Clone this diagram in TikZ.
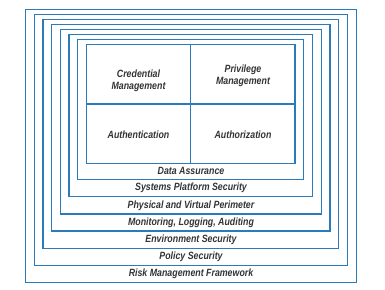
\documentclass[tikz,border=0pt]{standalone}
\usepackage{fontspec}
\usepackage{xcolor}
\usepackage{tikz}
\newfontfamily\lblfont[FakeStretch=0.84]{Liberation Sans}
\definecolor{ringblue}{HTML}{2B7BBA}
\definecolor{lblgray}{HTML}{333333}

\begin{document}
\begin{tikzpicture}[
    x=1pt, y=-1pt,
    ring/.style={draw=ringblue, line width=1.3pt},
    lbl/.style={font=\lblfont\bfseries\itshape\fontsize{10.5}{12}\selectfont,
                text=lblgray, align=center, inner sep=0pt},
  ]
  \useasboundingbox (0,0) rectangle (385,289);
  % Nested security layers, outermost first
  \foreach \i/\txt in {0/Risk Management Framework, 1/Policy Security,
                       2/Environment Security, 3/{Monitoring, Logging, Auditing},
                       4/Physical and Virtual Perimeter, 5/Systems Platform Security,
                       6/Data Assurance} {
    \draw[ring] ({25.7+8.65*\i},{9.7+5*\i}) rectangle ({356.3-8.75*\i},{282.7-17.2*\i});
    \node[lbl] (layer\i) at (191,{274.1-17.2*\i}) {\txt};
  }
  % Core: identity and access quadrants
  \draw[ring] (86.3,44.3) rectangle (295,163.3);
  \draw[ring] (190.7,44.3) -- (190.7,163.3);
  \draw[ring] (86.3,104) -- (295,104);
  \node[lbl] (cred)  at (138.5,81)    {Credential\\Management};
  \node[lbl] (priv)  at (243,75.5)    {Privilege\\Management};
  \node[lbl] (authn) at (138.5,134.5) {Authentication};
  \node[lbl] (authz) at (243,134.5)   {Authorization};
\end{tikzpicture}
\end{document}
